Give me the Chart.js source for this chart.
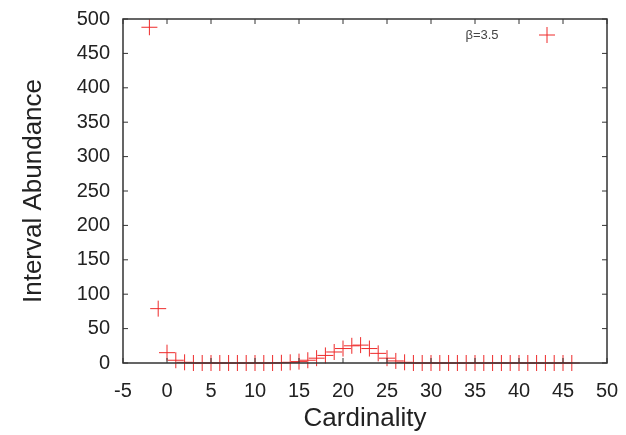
<!DOCTYPE html>
<html>
<head>
<meta charset="utf-8">
<script src="https://cdn.jsdelivr.net/npm/chart.js@4/dist/chart.umd.min.js"></script>
<style>
  html, body { margin: 0; padding: 0; background: #fff; }
  #wrap { width: 626px; height: 435px; }
</style>
</head>
<body>
<div id="wrap"><canvas id="c" width="626" height="435"></canvas></div>
<script>
// Cardinality values (x)
const cardinality = [-2, -1, 0, 1, 2, 3, 4, 5, 6, 7, 8, 9, 10, 11, 12, 13, 14, 15, 16, 17, 18, 19, 20, 21, 22, 23, 24, 25, 26, 27, 28, 29, 30, 31, 32, 33, 34, 35, 36, 37, 38, 39, 40, 41, 42, 43, 44, 45, 46];
// Interval abundance values (y)
const abundance = [488, 79, 15, 4, 1, 0, 0, 0, 0, 0, 0, 0, 0, 0, 0, 0.3, 1, 2, 4, 7, 11, 16, 21, 25, 26, 21, 14, 7, 3, 1, 0, 0, 0, 0, 0, 0, 0, 0, 0, 0, 0, 0, 0, 0, 0, 0, 0, 0, 0];
const seriesLabel = 'β=3.5';
const xTicks = [-5, 0, 5, 10, 15, 20, 25, 30, 35, 40, 45, 50];
const yTicks = [0, 50, 100, 150, 200, 250, 300, 350, 400, 450, 500];

const RED = '#ee2a2a';
const AXIS = '#333333';
const TEXT = '#222222';
const FONT = "'Liberation Sans', Arial, Helvetica, sans-serif";

const points = cardinality.map((x, i) => ({ x: x, y: abundance[i] }));

function zeroPadding(scale) {
  scale.paddingTop = 0; scale.paddingBottom = 0;
  scale.paddingLeft = 0; scale.paddingRight = 0;
}

const framePlugin = {
  id: 'frame',
  afterDraw(chart) {
    const { ctx, chartArea: a, scales } = chart;
    ctx.save();
    ctx.strokeStyle = AXIS;
    ctx.lineWidth = 1.5;
    ctx.strokeRect(a.left, a.top, a.right - a.left, a.bottom - a.top);
    ctx.lineWidth = 1;
    const tl = 5;
    ctx.beginPath();
    xTicks.forEach(v => {
      const px = scales.x.getPixelForValue(v);
      ctx.moveTo(px, a.bottom); ctx.lineTo(px, a.bottom - tl);
      ctx.moveTo(px, a.top); ctx.lineTo(px, a.top + tl);
    });
    yTicks.forEach(v => {
      const py = scales.y.getPixelForValue(v);
      ctx.moveTo(a.left, py); ctx.lineTo(a.left + tl, py);
      ctx.moveTo(a.right, py); ctx.lineTo(a.right - tl, py);
    });
    ctx.stroke();
    // legend
    const ly = a.top + 16;
    ctx.fillStyle = '#444';
    ctx.font = '13px ' + FONT;
    ctx.textAlign = 'center';
    ctx.textBaseline = 'middle';
    ctx.fillText(seriesLabel, 482, ly);
    ctx.strokeStyle = RED;
    ctx.lineWidth = 1;
    const mx = 547, r = 8;
    ctx.beginPath();
    ctx.moveTo(mx - r, ly); ctx.lineTo(mx + r, ly);
    ctx.moveTo(mx, ly - r); ctx.lineTo(mx, ly + r);
    ctx.stroke();
    ctx.restore();
  }
};

new Chart(document.getElementById('c'), {
  type: 'scatter',
  data: {
    datasets: [{
      label: seriesLabel,
      data: points,
      pointStyle: 'cross',
      pointRadius: 8,
      pointHoverRadius: 8,
      pointBorderWidth: 1,
      borderColor: RED,
      backgroundColor: RED,
      showLine: false,
      clip: false
    }]
  },
  options: {
    responsive: false,
    animation: false,
    devicePixelRatio: 1,
    layout: { padding: { left: 0, right: 19, top: 19, bottom: 0 } },
    plugins: { legend: { display: false }, tooltip: { enabled: false } },
    scales: {
      x: {
        type: 'linear',
        min: -5, max: 50,
        afterFit(scale) { scale.height = 72; zeroPadding(scale); },
        afterBuildTicks(scale) { scale.ticks = xTicks.map(v => ({ value: v })); },
        grid: { display: false, drawTicks: false },
        border: { display: false },
        ticks: { color: TEXT, font: { family: FONT, size: 20 }, padding: 16, maxRotation: 0, autoSkip: false },
        title: { display: true, text: 'Cardinality', color: TEXT, font: { family: FONT, size: 26 }, padding: { top: 0, bottom: 1 } }
      },
      y: {
        type: 'linear',
        min: 0, max: 500,
        afterFit(scale) { scale.width = 123; zeroPadding(scale); },
        afterBuildTicks(scale) { scale.ticks = yTicks.map(v => ({ value: v })); },
        grid: { display: false, drawTicks: false },
        border: { display: false },
        ticks: { color: TEXT, font: { family: FONT, size: 20 }, padding: 13, autoSkip: false },
        title: { display: true, text: 'Interval Abundance', color: TEXT, font: { family: FONT, size: 26 }, padding: { top: 18, bottom: 0 } }
      }
    }
  },
  plugins: [framePlugin]
});
</script>
</body>
</html>
